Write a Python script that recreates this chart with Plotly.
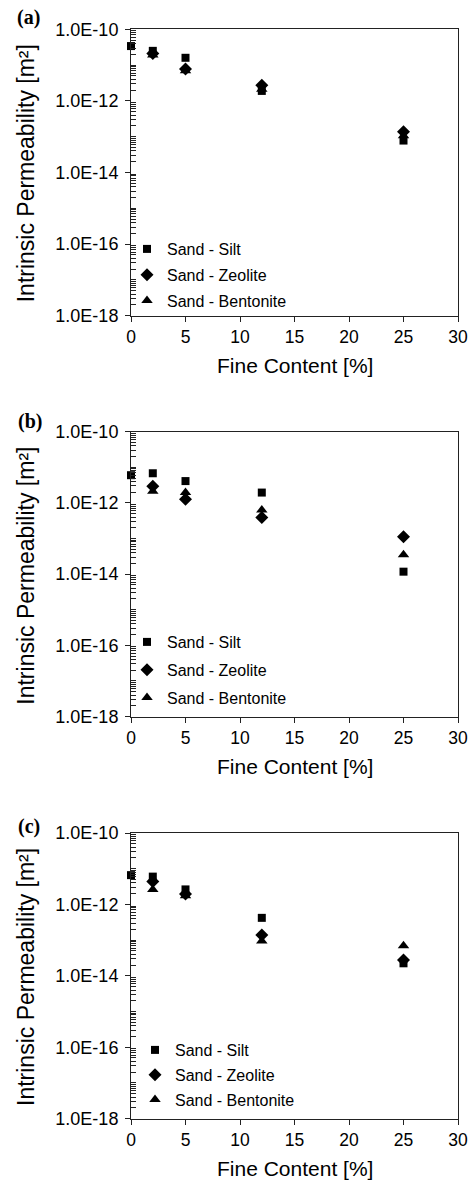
import numpy as np
import plotly.graph_objects as go

# ---------------- data ----------------
fine_silt = [0, 2, 5, 12, 25]
fine_other = [2, 5, 12, 25]

a_silt = [3.4e-11, 2.5e-11, 1.6e-11, 1.9e-12, 7.8e-14]
a_zeolite = [2.1e-11, 7.8e-12, 2.75e-12, 1.38e-13]
a_bentonite = [1.9e-11, 6.9e-12, 2.1e-12, 1.07e-13]

b_silt = [6.0e-12, 6.8e-12, 4.1e-12, 1.95e-12, 1.17e-14]
b_zeolite = [2.95e-12, 1.26e-12, 3.9e-13, 1.12e-13]
b_bentonite = [2.14e-12, 1.95e-12, 6.3e-13, 3.47e-14]

c_silt = [6.6e-12, 6.0e-12, 2.63e-12, 4.2e-13, 2.24e-14]
c_zeolite = [4.4e-12, 1.95e-12, 1.38e-13, 2.75e-14]
c_bentonite = [2.63e-12, 1.74e-12, 9.5e-14, 6.9e-14]

series_names = ["Sand - Silt", "Sand - Zeolite", "Sand - Bentonite"]
panel_labels = ["(a)", "(b)", "(c)"]
x_ticks = [0, 5, 10, 15, 20, 25, 30]
y_tickvals = [1e-18, 1e-16, 1e-14, 1e-12, 1e-10]
y_ticktext = ["1.0E-18", "1.0E-16", "1.0E-14", "1.0E-12", "1.0E-10"]
x_title = "Fine Content [%]"
y_title = "Intrinsic Permeability [m²]"

# ---------------- layout geometry ----------------
W, H = 475, 1183
FONT = "Liberation Sans, Arial, Helvetica, sans-serif"
px_left, px_right = 131, 458
panels_px = [(29.3, 315.7), (431.7, 716.5), (833.0, 1118.6)]
legend_px = [(127, 232), (127, 625), (135, 1033)]
legend_gap = [2, 4, 1]
label_px = [(28, 17), (30, 421), (29, 826)]

minor_vals = [k * 10.0 ** e for e in range(-18, -10) for k in range(1, 10)
              if not (k == 1 and e % 2 == 0)]

symbols = ["square", "diamond", "triangle-up"]
sizes = [8, 10, 10]

data_sets = [
    (a_silt, a_zeolite, a_bentonite),
    (b_silt, b_zeolite, b_bentonite),
    (c_silt, c_zeolite, c_bentonite),
]

fig = go.Figure()
layout = dict(
    width=W, height=H,
    margin=dict(l=0, r=0, t=0, b=0, autoexpand=False),
    paper_bgcolor="white", plot_bgcolor="white",
    font=dict(family=FONT, color="black"),
    showlegend=True,
)
annotations = []

for i, (silt, zeo, ben) in enumerate(data_sets):
    n = "" if i == 0 else str(i + 1)
    xa, ya = "x" + n, "y" + n
    lg = "legend" + n
    xs = [fine_silt, fine_other, fine_other]
    ys = [silt, zeo, ben]
    for j in range(3):
        fig.add_trace(go.Scatter(
            x=xs[j], y=ys[j], mode="markers", name=series_names[j],
            marker=dict(symbol=symbols[j], size=sizes[j], color="black",
                        line=dict(width=0)),
            xaxis=xa, yaxis=ya, legend=lg, legendgroup=f"g{i}{j}",
            cliponaxis=False,
        ))
    top, bot = panels_px[i]
    ydom = [1 - bot / H, 1 - top / H]
    xdom = [px_left / W, px_right / W]
    layout["xaxis" + n] = dict(
        domain=xdom, anchor=ya, range=[0, 30], tickmode="array", tickvals=x_ticks,
        ticks="outside", ticklen=5, tickcolor="#222", tickwidth=1,
        showline=True, linecolor="#222", linewidth=1, mirror=True,
        showgrid=False, zeroline=False, automargin=False,
        tickfont=dict(size=17.5, family=FONT),
    )
    layout["yaxis" + n] = dict(
        domain=ydom, anchor=xa, type="log", range=[-18, -10],
        tickmode="array", tickvals=y_tickvals, ticktext=y_ticktext,
        ticks="outside", ticklen=5, tickcolor="#222", tickwidth=1,
        showline=True, linecolor="#222", linewidth=1, mirror=True,
        showgrid=False, zeroline=False, automargin=False,
        tickfont=dict(size=18, family=FONT), ticklabelstandoff=3,
        minor=dict(tickmode="array", tickvals=minor_vals, ticks="inside",
                   ticklen=5, tickcolor="#222", tickwidth=1, showgrid=False),
    )
    k = 4 + i
    layout["xaxis" + str(k)] = dict(
        overlaying=xa, anchor=ya, range=[0, 30], tickmode="array", tickvals=x_ticks,
        ticks="inside", ticklen=5, tickcolor="#222", tickwidth=1, automargin=False,
        showticklabels=False, showline=False, showgrid=False, zeroline=False,
    )
    lx, ly = legend_px[i]
    layout[lg] = dict(
        x=lx / W, y=1 - ly / H, xanchor="left", yanchor="top",
        bgcolor="rgba(0,0,0,0)", borderwidth=0,
        font=dict(size=16, family=FONT, color="black"),
        tracegroupgap=legend_gap[i], itemsizing="trace",
    )
    annotations.append(dict(
        text=x_title, xref="paper", yref="paper",
        x=(px_left + px_right) / 2 / W, y=1 - (bot + 50) / H,
        xanchor="center", yanchor="middle", showarrow=False,
        font=dict(size=21, family=FONT, color="black"),
    ))
    annotations.append(dict(
        text=y_title, xref="paper", yref="paper",
        x=26 / W, y=1 - (top + 144) / H, textangle=-90,
        xanchor="center", yanchor="middle", showarrow=False,
        font=dict(size=23, family=FONT, color="black"),
    ))
    lxp, lyp = label_px[i]
    annotations.append(dict(
        text="<b>" + panel_labels[i] + "</b>", xref="paper", yref="paper",
        x=lxp / W, y=1 - lyp / H, xanchor="center", yanchor="middle",
        showarrow=False,
        font=dict(size=20, family="Liberation Serif, Times New Roman, serif",
                  color="black"),
    ))

layout["annotations"] = annotations
fig.update_layout(**layout)
fig.write_html(
    "out.html",
    config={"displayModeBar": False},
    post_script="document.body.style.margin='0';document.body.style.padding='0';"
                "document.documentElement.style.overflow='hidden';",
)
